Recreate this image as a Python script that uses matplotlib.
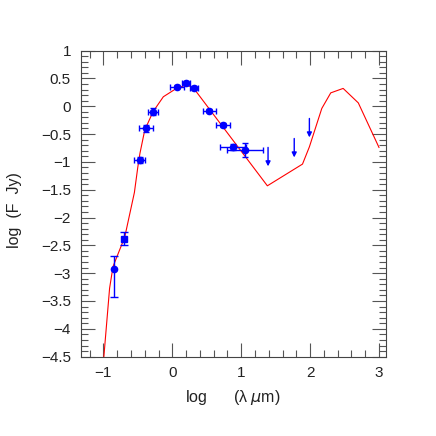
import matplotlib
matplotlib.use('Agg')
import matplotlib.pyplot as plt
from matplotlib.ticker import MultipleLocator

plt.rcParams['font.family'] = ['Liberation Sans', 'DejaVu Sans']
plt.rcParams['mathtext.fontset'] = 'dejavusans'

# SED model (red curve)
modelX = [-1.00, -0.91, -0.86, -0.69, -0.55, -0.50, -0.47, -0.40, -0.28, -0.13,
          0.06, 0.20, 0.30, 1.38, 1.89, 1.99, 2.17, 2.30, 2.48, 2.70, 3.00]
modelY = [-4.60, -3.27, -2.88, -2.35, -1.55, -1.09, -0.85, -0.43, -0.10, 0.17,
          0.32, 0.38, 0.34, -1.43, -1.04, -0.73, -0.04, 0.24, 0.32, 0.06, -0.74]

# photometry with errors
ptX = [-0.47, -0.38, -0.28, 0.07, 0.20, 0.32, 0.54, 0.74, 0.88, 1.06]
ptY = [-0.97, -0.40, -0.10, 0.35, 0.42, 0.33, -0.08, -0.34, -0.73, -0.79]
ptXerr = [0.08, 0.10, 0.07, 0.10, 0.06, 0.06, 0.10, 0.10, 0.19, 0.26]
ptYerr = [0.05, 0.06, 0.06, 0.03, 0.04, 0.03, 0.03, 0.03, 0.05, 0.13]

# short-wavelength points
lowX = [-0.85]
lowY = [-2.93]
lowYerrLo = [0.50]
lowYerrHi = [0.23]
sqX = [-0.70]
sqY = [-2.38]
sqYerr = [0.12]

# upper limits
limX = [1.39, 1.77, 1.99]
limY = [-0.74, -0.58, -0.22]
arrowLen = 0.34

fig = plt.figure(figsize=(4.36, 4.36), dpi=100)
ax = fig.add_axes([0.185, 0.182, 0.700, 0.702])

ax.plot(modelX, modelY, color='red', lw=0.8, zorder=2)

ax.errorbar(ptX, ptY, xerr=ptXerr, yerr=ptYerr, fmt='o', color='blue', ms=4.5,
            elinewidth=1.0, capsize=2.5, capthick=1.0, zorder=3)
ax.errorbar(lowX, lowY, yerr=[lowYerrLo, lowYerrHi], fmt='o', color='blue', ms=4.5,
            elinewidth=1.0, capsize=3, capthick=1.0, zorder=3)
ax.errorbar(sqX, sqY, yerr=sqYerr, fmt='s', color='blue', ms=4.5,
            elinewidth=1.0, capsize=3, capthick=1.0, zorder=3)

for x, y in zip(limX, limY):
    ax.annotate('', xy=(x, y - arrowLen), xytext=(x, y),
                arrowprops=dict(arrowstyle='-|>', color='blue', lw=1.0,
                                mutation_scale=7, shrinkA=0, shrinkB=0))

ax.set_xlim(-1.33, 3.1)
ax.set_ylim(-4.5, 1)
ax.xaxis.set_major_locator(MultipleLocator(1))
ax.xaxis.set_minor_locator(MultipleLocator(0.2))
ax.yaxis.set_major_locator(MultipleLocator(0.5))
ax.yaxis.set_minor_locator(MultipleLocator(0.1))
ax.tick_params(which='both', direction='in', top=True, right=True,
               color='#555555', width=0.8, labelsize=11, labelcolor='#222222', pad=7)
ax.tick_params(which='major', length=10)
ax.tick_params(which='minor', length=5)
ax.yaxis.set_major_formatter(plt.FuncFormatter(
    lambda v, p: ('%g' % v).replace('-', '\u2212')))
for s in ax.spines.values():
    s.set_color('#444444')
    s.set_linewidth(0.8)

ax.set_xlabel('log      (\u03bb $\\mu$m)', fontsize=11.5, color='#222222')
ax.set_ylabel('log  (F  Jy)', fontsize=11.5, color='#222222')
ax.xaxis.set_label_coords(0.5, -0.102)
ax.yaxis.set_label_coords(-0.192, 0.48)

fig.savefig('out.png', dpi=100)
